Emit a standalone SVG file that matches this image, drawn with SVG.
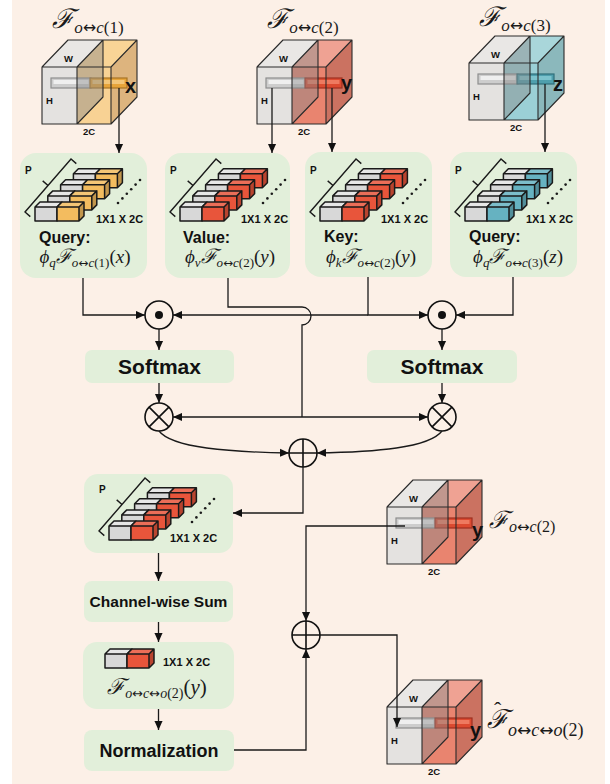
<svg xmlns="http://www.w3.org/2000/svg" width="610" height="784" viewBox="0 0 610 784">
<style>
.bg{fill:#FCF0E7}
.box{fill:#E2EFDA}
.lbl{font-family:"Liberation Sans",Arial,sans-serif;font-weight:bold;fill:#111}
.m{font-family:"Liberation Serif","DejaVu Serif",serif;font-style:italic;fill:#1a1a1a}
.u{font-style:normal}
.F{font-family:"DejaVu Serif",serif;font-style:italic}
.ar{font-family:"DejaVu Sans",sans-serif;font-style:normal}
.con{fill:none;stroke:#1a1a1a;stroke-width:1.3}
.arr{marker-end:url(#ah)}
.op{fill:#FCF0E7;stroke:#111;stroke-width:1.6}
.opl{fill:none;stroke:#111;stroke-width:1.6}
.cv{font-family:"Liberation Sans",Arial,sans-serif;font-weight:bold;font-size:20px;fill:#111}
</style>
<defs>
<marker id="ah" viewBox="0 0 10 10" refX="10" refY="5" markerWidth="9" markerHeight="9" markerUnits="userSpaceOnUse" orient="auto"><path d="M0,0.5 L10,5 L0,9.5 Z" fill="#111"/></marker>
<g id="gb">
<path d="M0,0 L5,-5 L27,-5 L22,0 Z" fill="#E7E7E7"/>
<path d="M22,0 L27,-5 L27,9 L22,14 Z" fill="#BDBDBD"/>
<rect width="22" height="14" fill="#D8D8D8"/>
<path d="M0,0 L5,-5 L27,-5 L22,0 Z M22,0 L27,-5 L27,9 L22,14 M0,0 H22 V14 H0 Z" fill="none" stroke="#1a1a1a" stroke-width="1.5" stroke-linejoin="round"/>
</g>
<g id="cb">
<path d="M0,0 L5,-5 L27,-5 L22,0 Z"/>
<path d="M0,0 L5,-5 L27,-5 L22,0 Z" fill="#fff" fill-opacity="0.15"/>
<path d="M22,0 L27,-5 L27,9 L22,14 Z"/>
<path d="M22,0 L27,-5 L27,9 L22,14 Z" fill="#000" fill-opacity="0.2"/>
<rect width="22" height="14"/>
<path d="M0,0 L5,-5 L27,-5 L22,0 Z M22,0 L27,-5 L27,9 L22,14 M0,0 H22 V14 H0 Z" fill="none" stroke="#1a1a1a" stroke-width="1.5" stroke-linejoin="round"/>
</g>
<g id="stk">
<path d="M-4.7,9.6 L-10,5 L36,-48 L41.3,-43.4 M13,-21.5 L7.7,-26.1" fill="none" stroke="#1a1a1a" stroke-width="1.4"/>
<text x="-10" y="-33" font-family="Liberation Sans, Arial, sans-serif" font-weight="bold" font-size="10" fill="#111">P</text>
<use href="#gb" x="38.4" y="-33.3"/><use href="#cb" x="60.4" y="-33.3"/>
<use href="#gb" x="25.6" y="-22.2"/><use href="#cb" x="47.6" y="-22.2"/>
<use href="#gb" x="12.8" y="-11.1"/><use href="#cb" x="34.8" y="-11.1"/>
<use href="#gb" x="0" y="0"/><use href="#cb" x="22" y="0"/>
<g fill="#1a1a1a"><circle cx="83" cy="-4" r="1.3"/><circle cx="87.4" cy="-8.6" r="1.3"/><circle cx="91.8" cy="-13.2" r="1.3"/><circle cx="96.2" cy="-17.8" r="1.3"/><circle cx="100.6" cy="-22.4" r="1.3"/><circle cx="105" cy="-27" r="1.3"/></g>
<text x="61" y="16" font-family="Liberation Sans, Arial, sans-serif" font-weight="bold" font-size="11" fill="#111">1X1 X 2C</text>
</g>
<g id="cg"><polygon points="0,0 26,-27 61,-27 35,0" fill="#E9E7E5"/><rect width="35" height="57" fill="#E4E2E0"/></g>
<g id="cpl">
<polygon points="35,0 61,-27 61,30 35,57" fill="#8a8a8a" fill-opacity="0.45"/>
<path d="M0,0 H69 V57 H0 Z M0,0 L26,-27 H95 L69,0 M95,-27 V30 L69,57 M35,0 V57 M35,0 L61,-27 V30 L35,57" fill="none" stroke="#2a2a2a" stroke-width="1.1" stroke-linejoin="round"/>
<g font-family="Liberation Sans, Arial, sans-serif" font-weight="bold" font-size="9.5" fill="#111"><text x="22" y="-5">W</text><text x="4" y="37">H</text><text x="41" y="68">2C</text></g>
</g>
</defs>

<rect class="bg" x="12" y="0" width="593" height="784"/>

<g id="cube-x" transform="translate(42,67)">
<polygon points="35,0 61,-27 95,-27 69,0" fill="#F9D496"/>
<polygon points="69,0 95,-27 95,30 69,57" fill="#DDB47E"/>
<rect x="35" width="34" height="57" fill="#F8D294"/>
<use href="#cg"/>
<rect x="9" y="11" width="40" height="10" fill="#CDCDCD" stroke="#8E8E8E" stroke-width="1.2"/>
<rect x="11.5" y="13" width="35" height="4" fill="#EFEFEF"/>
<rect x="48" y="11" width="37" height="10" fill="#E7A43A" stroke="#A87526" stroke-width="1.2"/>
<rect x="50.5" y="13" width="32" height="4" fill="#F3C679"/>
<use href="#cpl"/>
<text class="cv" x="83" y="26">x</text>
</g>
<text class="m" x="88" y="28" text-anchor="middle" font-size="27"><tspan class="F">ℱ</tspan><tspan font-size="17" dy="5">o<tspan class="ar" font-size="16">↔</tspan>c<tspan class="u">(1)</tspan></tspan></text>

<g id="cube-y" transform="translate(257,67)">
<polygon points="35,0 61,-27 95,-27 69,0" fill="#EFA293"/>
<polygon points="69,0 95,-27 95,30 69,57" fill="#CB7261"/>
<rect x="35" width="34" height="57" fill="#E9846F"/>
<use href="#cg"/>
<rect x="9" y="11" width="40" height="10" fill="#CDCDCD" stroke="#8E8E8E" stroke-width="1.2"/>
<rect x="11.5" y="13" width="35" height="4" fill="#EFEFEF"/>
<rect x="48" y="11" width="37" height="10" fill="#DC4A30" stroke="#9E3020" stroke-width="1.2"/>
<rect x="50.5" y="13" width="32" height="4" fill="#EE7A60"/>
<use href="#cpl"/>
<text class="cv" x="84" y="23">y</text>
</g>
<text class="m" x="303" y="28" text-anchor="middle" font-size="27"><tspan class="F">ℱ</tspan><tspan font-size="17" dy="5">o<tspan class="ar" font-size="16">↔</tspan>c<tspan class="u">(2)</tspan></tspan></text>

<g id="cube-z" transform="translate(469,63)">
<polygon points="35,0 61,-27 95,-27 69,0" fill="#A9D6DA"/>
<polygon points="69,0 95,-27 95,30 69,57" fill="#8BB8BC"/>
<rect x="35" width="34" height="57" fill="#9BD0D6"/>
<use href="#cg"/>
<rect x="9" y="11" width="40" height="10" fill="#CDCDCD" stroke="#8E8E8E" stroke-width="1.2"/>
<rect x="11.5" y="13" width="35" height="4" fill="#EFEFEF"/>
<rect x="48" y="11" width="37" height="10" fill="#4E9FAD" stroke="#2F6F7A" stroke-width="1.2"/>
<rect x="50.5" y="13" width="32" height="4" fill="#7CC3CD"/>
<use href="#cpl"/>
<text class="cv" x="84" y="28">z</text>
</g>
<text class="m" x="515" y="26" text-anchor="middle" font-size="27"><tspan class="F">ℱ</tspan><tspan font-size="17" dy="5">o<tspan class="ar" font-size="16">↔</tspan>c<tspan class="u">(3)</tspan></tspan></text>

<g id="box-query1">
<rect class="box" x="20" y="153" width="127" height="125" rx="16"/>
<use href="#stk" x="35" y="207" fill="#F3BC5F"/>
<text class="lbl" x="39" y="243" font-size="16">Query:</text>
<text class="m" x="85" y="263" text-anchor="middle" font-size="19">ϕ<tspan font-size="13" dy="4">q</tspan><tspan class="F" font-size="20" dy="-4">ℱ</tspan><tspan font-size="13" dy="4">o<tspan class="ar" font-size="12">↔</tspan>c<tspan class="u">(1)</tspan></tspan><tspan class="u" dy="-4">(</tspan>x<tspan class="u">)</tspan></text>
</g>
<g id="box-value">
<rect class="box" x="165" y="153" width="125" height="125" rx="16"/>
<use href="#stk" x="180" y="207" fill="#E8553B"/>
<text class="lbl" x="183" y="243" font-size="16">Value:</text>
<text class="m" x="230" y="263" text-anchor="middle" font-size="19">ϕ<tspan font-size="13" dy="4">v</tspan><tspan class="F" font-size="20" dy="-4">ℱ</tspan><tspan font-size="13" dy="4">o<tspan class="ar" font-size="12">↔</tspan>c<tspan class="u">(2)</tspan></tspan><tspan class="u" dy="-4">(</tspan>y<tspan class="u">)</tspan></text>
</g>
<g id="box-key">
<rect class="box" x="305" y="152" width="127" height="125" rx="16"/>
<use href="#stk" x="320" y="207" fill="#E8553B"/>
<text class="lbl" x="324" y="242" font-size="16">Key:</text>
<text class="m" x="371" y="263" text-anchor="middle" font-size="19">ϕ<tspan font-size="13" dy="4">k</tspan><tspan class="F" font-size="20" dy="-4">ℱ</tspan><tspan font-size="13" dy="4">o<tspan class="ar" font-size="12">↔</tspan>c<tspan class="u">(2)</tspan></tspan><tspan class="u" dy="-4">(</tspan>y<tspan class="u">)</tspan></text>
</g>
<g id="box-query3">
<rect class="box" x="450" y="152" width="127" height="125" rx="16"/>
<use href="#stk" x="465" y="207" fill="#66B2C1"/>
<text class="lbl" x="469" y="242" font-size="16">Query:</text>
<text class="m" x="518" y="263" text-anchor="middle" font-size="19">ϕ<tspan font-size="13" dy="4">q</tspan><tspan class="F" font-size="20" dy="-4">ℱ</tspan><tspan font-size="13" dy="4">o<tspan class="ar" font-size="12">↔</tspan>c<tspan class="u">(3)</tspan></tspan><tspan class="u" dy="-4">(</tspan>z<tspan class="u">)</tspan></text>
</g>

<g id="dot1"><circle class="op" cx="159" cy="315" r="14"/><circle cx="159" cy="315" r="4" fill="#111"/></g>
<g id="dot2"><circle class="op" cx="442" cy="315" r="14"/><circle cx="442" cy="315" r="4" fill="#111"/></g>
<g id="softmax1"><rect class="box" x="85" y="350" width="149" height="33" rx="7"/><text class="lbl" x="159.5" y="374" font-size="21" text-anchor="middle">Softmax</text></g>
<g id="softmax2"><rect class="box" x="367" y="350" width="150" height="33" rx="7"/><text class="lbl" x="442" y="374" font-size="21" text-anchor="middle">Softmax</text></g>
<g id="mul1"><circle class="op" cx="159" cy="417" r="14"/><path class="opl" d="M149.1,407.1 L168.9,426.9 M168.9,407.1 L149.1,426.9"/></g>
<g id="mul2"><circle class="op" cx="442" cy="417" r="14"/><path class="opl" d="M432.1,407.1 L451.9,426.9 M451.9,407.1 L432.1,426.9"/></g>
<g id="add1"><circle class="op" cx="303" cy="453" r="14"/><path class="opl" d="M289,453 H317 M303,439 V467"/></g>

<g id="box-attn">
<rect class="box" x="84" y="474" width="149" height="79" rx="14"/>
<use href="#stk" x="109" y="526" fill="#E8553B"/>
</g>
<g id="channel-sum"><rect class="box" x="84" y="581" width="149" height="41" rx="8"/><text class="lbl" x="158.5" y="607" font-size="15.5" text-anchor="middle">Channel-wise Sum</text></g>
<g id="box-fo2">
<rect class="box" x="83" y="642" width="151" height="67" rx="14"/>
<use href="#gb" x="105" y="654"/><use href="#cb" x="127" y="654" fill="#E8553B"/>
<text class="lbl" x="163" y="666" font-size="11">1X1 X 2C</text>
<text class="m" x="157" y="694" text-anchor="middle" font-size="21"><tspan class="F" font-size="22">ℱ</tspan><tspan font-size="14" dy="4">o<tspan class="ar" font-size="13">↔</tspan>c<tspan class="ar" font-size="13">↔</tspan>o<tspan class="u">(2)</tspan></tspan><tspan class="u" dy="-4">(</tspan>y<tspan class="u">)</tspan></text>
</g>
<g id="normalization"><rect class="box" x="84" y="730" width="150" height="41" rx="8"/><text class="lbl" x="159" y="757" font-size="18" text-anchor="middle">Normalization</text></g>
<g id="add2"><circle class="op" cx="306" cy="635" r="14"/><path class="opl" d="M292,635 H320 M306,621 V649"/></g>

<g id="cube-y2" transform="translate(387,507)">
<polygon points="35,0 61,-27 95,-27 69,0" fill="#EFA293"/>
<polygon points="69,0 95,-27 95,30 69,57" fill="#CB7261"/>
<rect x="35" width="34" height="57" fill="#E9846F"/>
<use href="#cg"/>
<rect x="9" y="11" width="40" height="10" fill="#CDCDCD" stroke="#8E8E8E" stroke-width="1.2"/>
<rect x="11.5" y="13" width="35" height="4" fill="#EFEFEF"/>
<rect x="48" y="11" width="37" height="10" fill="#DC4A30" stroke="#9E3020" stroke-width="1.2"/>
<rect x="50.5" y="13" width="32" height="4" fill="#EE7A60"/>
<use href="#cpl"/>
<text class="cv" x="85" y="30">y</text>
</g>
<text class="m" x="489" y="528" font-size="24"><tspan class="F">ℱ</tspan><tspan font-size="16" dy="4">o<tspan class="ar" font-size="15">↔</tspan>c<tspan class="u">(2)</tspan></tspan></text>

<g id="cube-out" transform="translate(387,707)">
<polygon points="35,0 61,-27 95,-27 69,0" fill="#EFA293"/>
<polygon points="69,0 95,-27 95,30 69,57" fill="#CB7261"/>
<rect x="35" width="34" height="57" fill="#E9846F"/>
<use href="#cg"/>
<rect x="9" y="11" width="40" height="10" fill="#CDCDCD" stroke="#8E8E8E" stroke-width="1.2"/>
<rect x="11.5" y="13" width="35" height="4" fill="#EFEFEF"/>
<rect x="48" y="11" width="37" height="10" fill="#DC4A30" stroke="#9E3020" stroke-width="1.2"/>
<rect x="50.5" y="13" width="32" height="4" fill="#EE7A60"/>
<use href="#cpl"/>
<text class="cv" x="83" y="30">y</text>
</g>
<text class="m" font-size="26"><tspan class="u" x="494" y="717" font-size="22">ˆ</tspan><tspan class="F" x="487" y="728">ℱ</tspan><tspan font-size="18" dy="8">o<tspan class="ar" font-size="17">↔</tspan>c<tspan class="ar" font-size="17">↔</tspan>o<tspan class="u">(2)</tspan></tspan></text>

<g id="connectors">
<path class="con arr" d="M119,88 V153"/>
<path class="con arr" d="M272,88 V153"/>
<path class="con arr" d="M332,88 V152"/>
<path class="con arr" d="M545,84 V152"/>
<path class="con arr" d="M83,278 V315 H145"/>
<path class="con arr" d="M368,277 V315 H428"/>
<path class="con arr" d="M368,315 H173"/>
<path class="con arr" d="M513,277 V315 H456"/>
<path class="con" d="M228,278 V307 H302 A9,9 0 0 1 302,325 V417"/>
<path class="con arr" d="M302,417 H173"/>
<path class="con arr" d="M302,417 H428"/>
<path class="con arr" d="M159,329 V350"/>
<path class="con arr" d="M442,329 V350"/>
<path class="con arr" d="M159,383 V403"/>
<path class="con arr" d="M442,383 V403"/>
<path class="con arr" d="M159,431 C172,448 230,452 289,453"/>
<path class="con arr" d="M442,431 C429,448 375,452 317,453"/>
<path class="con arr" d="M303,467 V513 H233"/>
<path class="con arr" d="M158.5,553 V581"/>
<path class="con arr" d="M158.5,622 V642"/>
<path class="con arr" d="M158.5,709 V730"/>
<path class="con arr" d="M234,750 H306 V649"/>
<path class="con arr" d="M405,526 H306 V621"/>
<path class="con arr" d="M320,635 H397 V727"/>
</g>
</svg>
